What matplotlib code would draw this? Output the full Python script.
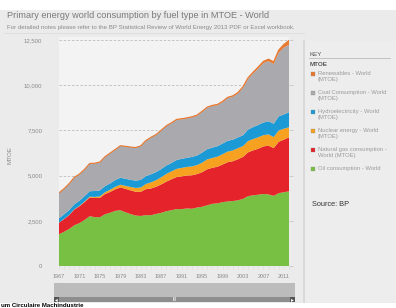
import matplotlib
matplotlib.use('Agg')
import matplotlib.pyplot as plt
from matplotlib.patches import Rectangle
from matplotlib.lines import Line2D

# ---------------- data (MTOE) ----------------
years = list(range(1967, 2013))
oil = [1753, 1895, 2048, 2254, 2371, 2550, 2752, 2704, 2697, 2862,
       2947, 3049, 3087, 2972, 2872, 2791, 2769, 2813, 2808, 2880,
       2942, 3032, 3087, 3147, 3146, 3184, 3167, 3233, 3277, 3361,
       3441, 3462, 3532, 3571, 3592, 3634, 3713, 3867, 3908, 3945,
       3985, 3959, 3880, 4031, 4081, 4131]
gas = [640, 700, 770, 870, 930, 985, 1040, 1060, 1070, 1120,
       1150, 1190, 1260, 1300, 1310, 1315, 1335, 1435, 1480, 1500,
       1570, 1635, 1710, 1770, 1810, 1820, 1850, 1850, 1910, 1990,
       1990, 2030, 2080, 2170, 2200, 2270, 2320, 2420, 2490, 2540,
       2630, 2700, 2640, 2840, 2910, 2987]
nuclear = [9, 12, 14, 18, 25, 32, 44, 55, 82, 95,
           120, 140, 148, 161, 190, 210, 240, 290, 340, 365,
           395, 425, 435, 453, 470, 475, 490, 500, 526, 545,
           542, 554, 571, 584, 601, 611, 599, 625, 627, 635,
           622, 620, 614, 626, 600, 560]
hydro = [240, 250, 265, 270, 285, 295, 300, 330, 335, 340,
         350, 370, 385, 390, 395, 405, 420, 435, 445, 450,
         455, 465, 465, 490, 500, 505, 525, 530, 560, 565,
         575, 580, 590, 600, 590, 595, 600, 635, 660, 685,
         700, 725, 735, 780, 790, 831]
coal = [1400, 1420, 1460, 1490, 1470, 1480, 1530, 1530, 1560, 1620,
        1670, 1690, 1760, 1790, 1800, 1820, 1870, 1950, 2030, 2060,
        2130, 2180, 2200, 2220, 2190, 2180, 2190, 2200, 2250, 2290,
        2300, 2270, 2290, 2360, 2380, 2430, 2630, 2810, 2970, 3130,
        3290, 3330, 3300, 3530, 3700, 3730]
renewables = [4, 4, 5, 5, 5, 6, 6, 7, 7, 8,
              8, 9, 9, 10, 11, 12, 14, 16, 18, 19,
              21, 22, 25, 28, 30, 31, 32, 33, 35, 36,
              38, 40, 42, 45, 47, 52, 56, 63, 70, 80,
              92, 107, 123, 143, 173, 237]

y_ticks = [0, 2500, 5000, 7500, 10000, 12500]
y_tick_labels = ["0", "2,500", "5,000", "7,500", "10,000", "12,500"]
x_ticks = list(range(1967, 2012, 4))
x_tick_labels = [str(v) for v in x_ticks]

legend_items = [
    ("Renewables - World\n(MTOE)", "#e8782f"),
    ("Coal Consumption - World\n(MTOE)", "#aaaaae"),
    ("Hydroelectricity - World\n(MTOE)", "#1c9ad6"),
    ("Nuclear energy - World\n(MTOE)", "#f6a11f"),
    ("Natural gas consumption -\nWorld (MTOE)", "#e5232a"),
    ("Oil consumption - World", "#78c043"),
]
stack_colors = ["#78c043", "#e5232a", "#f6a11f", "#1c9ad6", "#aaaaae", "#e8782f"]

title = "Primary energy world consumption by fuel type in MTOE - World"
subtitle = ("For detailed notes please refer to the BP Statistical Review of "
            "World Energy 2013 PDF or Excel workbook.")

# ---------------- layout helpers ----------------
W, H = 396, 308
fig = plt.figure(figsize=(W / 100, H / 100), dpi=100, facecolor='#ebebeb')
FONT = 'Liberation Sans'


def fx(x):
    return x / W


def fy(y):
    return 1 - y / H


def rect(x0, y0, x1, y1, **kw):
    fig.patches.append(Rectangle((fx(x0), fy(y1)), fx(x1) - fx(x0), fy(y0) - fy(y1),
                                 transform=fig.transFigure, figure=fig, **kw))


def hline(x0, x1, y, **kw):
    fig.lines.append(Line2D([fx(x0), fx(x1)], [fy(y), fy(y)],
                            transform=fig.transFigure, figure=fig, **kw))


# backgrounds
rect(0, 0, W, 10, facecolor='white', edgecolor='none', zorder=0)
rect(0, 303, W, H, facecolor='white', edgecolor='none', zorder=0)
hline(4, 304, 33, color='#dcdcdc', lw=0.6)

# title texts
renderer = fig.canvas.get_renderer()


def fit(t, target_w):
    bb = t.get_window_extent(renderer)
    t.set_fontsize(t.get_fontsize() * target_w / bb.width)


t1 = fig.text(fx(7), fy(15.5), title, ha='left', va='center', color='#7a7a7a',
              fontsize=9, family=FONT)
fit(t1, 262)
t2 = fig.text(fx(7), fy(28), subtitle, ha='left', va='center', color='#8a8a8a',
              fontsize=5, family=FONT)
fit(t2, 295)

# ---------------- main chart ----------------
PLOT_L, PLOT_R, PLOT_B, PLOT_T = 59, 289, 266, 37
ax = fig.add_axes([fx(PLOT_L), fy(PLOT_B), fx(PLOT_R) - fx(PLOT_L), fy(PLOT_T) - fy(PLOT_B)])
ax.set_facecolor('#f3f3f3')
ymax = 12500 * (PLOT_B - PLOT_T) / (PLOT_B - 40)
ax.set_ylim(0, ymax)
ax.set_xlim(years[0], years[-1])

ax.stackplot(years, oil, gas, nuclear, hydro, coal, renewables,
             colors=stack_colors, linewidth=0, zorder=2)
total = [a + b + c + d + e + f for a, b, c, d, e, f in
         zip(oil, gas, nuclear, hydro, coal, renewables)]
ax.plot(years, total, color='#e8782f', lw=0.8, zorder=3)

for s in ax.spines.values():
    s.set_visible(False)
ax.set_yticks(y_ticks)
ax.set_yticklabels(y_tick_labels, family=FONT, fontsize=4.3, color='#8a8a8a')
ax.set_xticks(x_ticks)
ax.set_xticklabels(x_tick_labels, family=FONT, fontsize=4, color='#8a8a8a')
ax.tick_params(axis='y', left=False, right=True, labelleft=True, length=3,
               color='#c8c8c8', width=0.6, pad=9)
ax.tick_params(axis='x', length=2, color='#dddddd', width=0.5, pad=4)
ax.set_xticks(years, minor=True)
ax.tick_params(axis='x', which='minor', length=2, color='#dddddd', width=0.5)
ax.grid(axis='y', color='#bdbdbd', linestyle=(0, (3, 2)), lw=0.6, zorder=1)
ax.set_axisbelow(True)
ax.set_ylabel("MTOE", family=FONT, fontsize=4.5, color='#8a8a8a', labelpad=0)
ax.yaxis.set_label_coords((13 - PLOT_L) / (PLOT_R - PLOT_L), (PLOT_B - 155) / (PLOT_B - PLOT_T))

# ---------------- scrollbar (range selector) ----------------
SB_L, SB_R = 54, 295
rect(SB_L, 283, SB_R, 296.5, facecolor='#bcbcbc', edgecolor='none', zorder=1)
rect(SB_L, 296.5, SB_R, 302, facecolor='#8e8e8e', edgecolor='none', zorder=1)
rect(SB_L, 296.5, SB_L + 5, 302, facecolor='#555555', edgecolor='none', zorder=2)
rect(SB_R - 5, 296.5, SB_R, 302, facecolor='#555555', edgecolor='none', zorder=2)
fig.text(fx(SB_L + 2.5), fy(299.3), "◂", ha='center', va='center', fontsize=4, color='white')
fig.text(fx(SB_R - 2.5), fy(299.3), "▸", ha='center', va='center', fontsize=4, color='white')
fig.text(fx(175), fy(299.3), "III", ha='center', va='center', fontsize=3.5, color='#e0e0e0',
         family=FONT, weight='bold')
sb = fig.add_axes([fx(PLOT_L), fy(296.5), fx(PLOT_R) - fx(PLOT_L), fy(283) - fy(296.5)])
sb.set_xlim(years[0], years[-1])
sb.set_ylim(0, 1)
sb.axis('off')
for yr in years:
    sb.plot([yr, yr], [0, 0.25 if (yr - 1967) % 4 else 0.4], color='#e6e6e6', lw=0.5)
for xv, lab in zip(x_ticks, x_tick_labels):
    sb.text(xv, 0.68, lab, ha='center', va='center', fontsize=3.8, color='#e8e8e8', family=FONT)
sb.plot([years[0] - 0.3] * 2, [0, 1], color='#555555', lw=0.8, clip_on=False)
sb.plot([years[-1] + 0.3] * 2, [0, 1], color='#555555', lw=0.8, clip_on=False)

# ---------------- key panel ----------------
rect(304, 41, 396, 302, facecolor='#ededed', edgecolor='none', zorder=1)
fig.lines.append(Line2D([fx(304), fx(304)], [fy(41), fy(302)], transform=fig.transFigure,
                        figure=fig, color='#d6d6d6', lw=1.2))
fig.text(fx(310), fy(54), "KEY", ha='left', va='center', fontsize=4.5, color='#555555', family=FONT)
hline(309, 390, 57.5, color='#bbbbbb', lw=0.6)
fig.text(fx(310), fy(65), "MTOE", ha='left', va='center', fontsize=4.5, color='#555555',
         family=FONT, weight='bold')
entry_y = [74, 93, 112, 131, 150, 169]
for (lab, col), ey in zip(legend_items, entry_y):
    rect(310.5, ey - 2, 314.5, ey + 2, facecolor=col, edgecolor='#888888', lw=0.2, zorder=3)
    fig.text(fx(318), fy(ey - 3), lab, ha='left', va='top', fontsize=4.2, color='#9a9a9a',
             family=FONT, linespacing=1.35)
fig.text(fx(312), fy(204), "Source: BP", ha='left', va='center', fontsize=5.3, color='#333333',
         family=FONT)

# bottom text (reference shows it at the very bottom edge)
fig.text(fx(1), fy(307.8), "um Circulaire Machindustrie", ha='left', va='bottom',
         fontsize=4.4, color='black', family=FONT, weight='bold')

fig.savefig('out.png', dpi=100, facecolor=fig.get_facecolor())
